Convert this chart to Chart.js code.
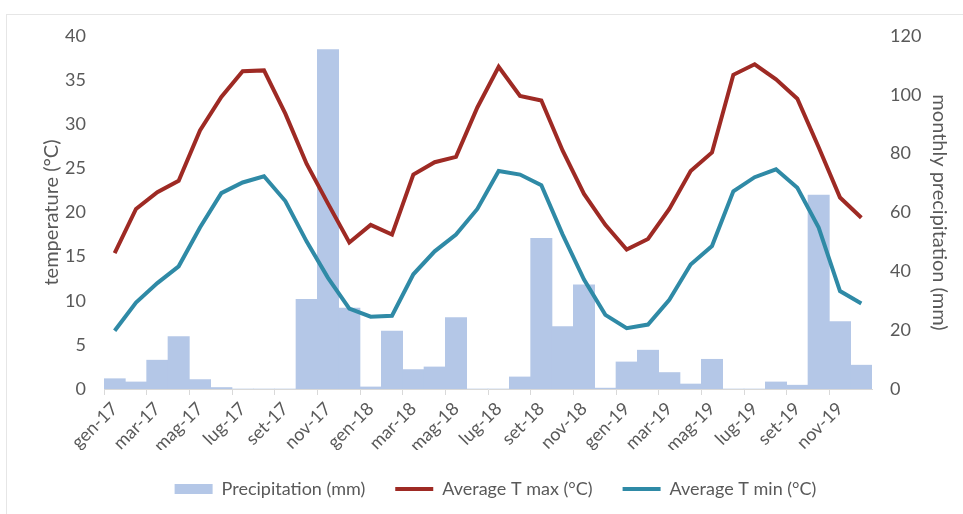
<!DOCTYPE html>
<html>
<head>
<meta charset="utf-8">
<script src="https://cdn.jsdelivr.net/npm/chart.js@4.4.1/dist/chart.umd.min.js"></script>
<style>
  body { margin: 0; background: #fff; }
  #wrap { position: relative; width: 963px; height: 514px; }
  #frame { position: absolute; left: 6px; top: 14px; right: 0; bottom: 0; border-left: 1px solid #e6e6e6; border-top: 1px solid #e6e6e6; }
  canvas { position: absolute; left: 0; top: 0; }
</style>
</head>
<body>
<div id="wrap">
  <div id="frame"></div>
  <canvas id="grafico" width="963" height="514"></canvas>
</div>
<script>
const mesi = ["gen-17","feb-17","mar-17","apr-17","mag-17","giu-17","lug-17","ago-17","set-17","ott-17","nov-17","dic-17",
              "gen-18","feb-18","mar-18","apr-18","mag-18","giu-18","lug-18","ago-18","set-18","ott-18","nov-18","dic-18",
              "gen-19","feb-19","mar-19","apr-19","mag-19","giu-19","lug-19","ago-19","set-19","ott-19","nov-19","dic-19"]

const precipitazioni = [3.5, 2.4, 9.8, 17.8, 3.2, 0.5, 0, 0, 0, 30.5, 115.4, 27.5,
                        0.7, 19.7, 6.6, 7.5, 24.3, 0, 0, 4.1, 51.2, 21.2, 35.4, 0.3,
                        9.2, 13.2, 5.6, 1.7, 10.1, 0, 0, 2.4, 1.3, 65.9, 22.9, 8.1]

const tMax = [15.4, 20.4, 22.3, 23.6, 29.3, 33.1, 36.0, 36.1, 31.2, 25.5, 21.0, 16.6,
              18.6, 17.5, 24.3, 25.7, 26.3, 31.9, 36.5, 33.2, 32.7, 27.0, 22.1, 18.6,
              15.8, 17.0, 20.4, 24.7, 26.8, 35.6, 36.8, 35.1, 32.9, 27.4, 21.7, 19.4]

const tMin = [6.6, 9.8, 12.0, 13.9, 18.3, 22.2, 23.4, 24.1, 21.3, 16.7, 12.6, 9.1,
              8.2, 8.3, 13.0, 15.6, 17.5, 20.4, 24.7, 24.3, 23.1, 17.5, 12.4, 8.4,
              6.9, 7.3, 10.1, 14.1, 16.2, 22.4, 24.0, 24.9, 22.8, 18.3, 11.1, 9.7]

const grigio = "#595959"
const font = { family: "Lato, 'Open Sans', sans-serif", size: 18 }
const fontTitolo = { family: font.family, size: 20 }

const ctx = document.getElementById("grafico")

new Chart(ctx, {
  data: {
    labels: mesi,
    datasets: [
      {
        type: "bar",
        label: "Precipitation (mm)",
        data: precipitazioni,
        yAxisID: "yPrec",
        backgroundColor: "#b4c7e7",
        borderWidth: 0,
        barPercentage: 1,
        categoryPercentage: 1,
        pointStyle: "rect",
        order: 3,
      },
      {
        type: "line",
        label: "Average T max (°C)",
        data: tMax,
        yAxisID: "yTemp",
        borderColor: "#9e2a24",
        backgroundColor: "#9e2a24",
        borderWidth: 4,
        pointRadius: 0,
        pointStyle: "line",
        tension: 0,
        order: 1,
      },
      {
        type: "line",
        label: "Average T min (°C)",
        data: tMin,
        yAxisID: "yTemp",
        borderColor: "#2f8aa6",
        backgroundColor: "#2f8aa6",
        borderWidth: 4,
        pointRadius: 0,
        pointStyle: "line",
        tension: 0,
        order: 2,
      },
    ],
  },
  options: {
    responsive: false,
    animation: false,
    layout: { padding: { left: 36, right: 8, top: 36, bottom: 6 } },
    plugins: {
      tooltip: { enabled: false },
      legend: {
        position: "bottom",
        labels: {
          usePointStyle: true,
          pointStyleWidth: 38,
          boxHeight: 10,
          padding: 30,
          color: grigio,
          font: font,
          sort: (a, b) => a.datasetIndex - b.datasetIndex,
        },
      },
    },
    scales: {
      x: {
        offset: true,
        grid: {
          offset: true,
          drawOnChartArea: false,
          tickLength: 6,
          color: (c) => (c.index % 2 === 0 ? "#d9d9d9" : "rgba(0,0,0,0)"),
        },
        border: { color: "#d9d9d9" },
        ticks: {
          autoSkip: false,
          maxRotation: 45,
          minRotation: 45,
          color: grigio,
          font: font,
          callback: (v, i) => (i % 2 === 0 ? mesi[i] : ""),
        },
        afterFit: (s) => { s.height = 61 },
      },
      yTemp: {
        position: "left",
        min: 0,
        max: 40,
        ticks: { stepSize: 5, color: grigio, font: font, padding: 10 },
        grid: { display: false },
        border: { display: false },
        title: { display: true, text: "temperature (°C)", color: grigio, font: fontTitolo },
        afterFit: (s) => { s.width = 68 },
      },
      yPrec: {
        position: "right",
        min: 0,
        max: 120,
        ticks: { stepSize: 20, color: grigio, font: font, padding: 10 },
        grid: { display: false },
        border: { display: false },
        title: { display: true, text: "monthly precipitation (mm)", color: grigio, font: fontTitolo },
        afterFit: (s) => { s.width = 83 },
      },
    },
  },
})
</script>
</body>
</html>
